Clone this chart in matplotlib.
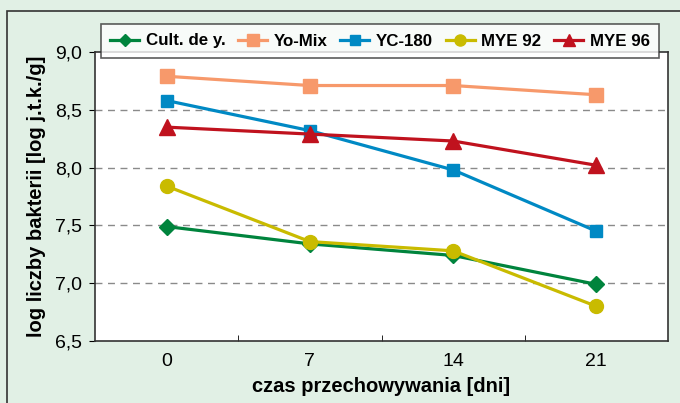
import matplotlib.pyplot as plt
import matplotlib.ticker as ticker
from matplotlib.patches import Rectangle

#----------------------------------------------------------------------------------------------------
# data
#----------------------------------------------------------------------------------------------------
days = ['0', '7', '14', '21']
cult = [7.49, 7.34, 7.24, 6.99]
yomix = [8.79, 8.71, 8.71, 8.63]
yc180 = [8.58, 8.32, 7.98, 7.45]
mye92 = [7.84, 7.36, 7.28, 6.80]
mye96 = [8.35, 8.29, 8.23, 8.02]

names = ['Cult. de y.', 'Yo-Mix', 'YC-180', 'MYE 92', 'MYE 96']
series = [cult, yomix, yc180, mye92, mye96]
colors = ['#00843d', '#f7996b', '#0089c4', '#c9bb00', '#c0121e']
markers = ['D', 's', 's', 'o', '^']
msizes = [8, 10, 9, 10, 11]

plt.rcParams['font.family'] = ['Liberation Sans', 'DejaVu Sans']

bg = '#e1f0e5'
fig = plt.figure(figsize=(6.8, 4.03), dpi=100)
fig.patch.set_facecolor(bg)
# outer frame
fig.patches.append(Rectangle((7/680, -0.1), 1.2, 1 - 11/403 + 0.1, transform=fig.transFigure,
                             fill=False, edgecolor='#333333', linewidth=1.2))

ax = fig.add_axes([95/680, 62/403, 573/680, 289/403])
ax.set_facecolor('white')

x = list(range(len(days)))
for vals, name, c, m, ms in zip(series, names, colors, markers, msizes):
    ax.plot(x, vals, color=c, marker=m, markersize=ms, linewidth=2.3, label=name)

ax.set_xlim(-0.5, 3.5)
ax.set_ylim(6.5, 9.0)
ax.set_xticks(x)
ax.set_xticklabels(days)
ax.xaxis.set_minor_locator(ticker.FixedLocator([0.5, 1.5, 2.5]))
ax.tick_params(axis='x', which='major', length=0, labelsize=14, pad=9)
ax.tick_params(axis='x', which='minor', length=4, direction='in')
ax.set_yticks([6.5, 7.0, 7.5, 8.0, 8.5, 9.0])
ax.yaxis.set_major_formatter(ticker.FuncFormatter(lambda v, p: ('%.1f' % v).replace('.', ',')))
ax.tick_params(axis='y', length=4, direction='out', labelsize=14, pad=5)

for g in [7.0, 7.5, 8.0, 8.5]:
    ax.axhline(g, color='#8a8a8a', linestyle=(0, (5, 4)), linewidth=1, zorder=0)

for s in ax.spines.values():
    s.set_color('#333333')
    s.set_linewidth(1.2)

ax.set_xlabel('czas przechowywania [dni]', fontsize=14.5, fontweight='bold', labelpad=5)
ax.set_ylabel('log liczby bakterii [log j.t.k./g]', fontsize=14.5, fontweight='bold', labelpad=7)

leg = ax.legend(loc='center', bbox_to_anchor=(380/680, 1 - 41/403), bbox_transform=fig.transFigure,
                ncol=5, frameon=True, fancybox=False,
                prop={'weight': 'bold', 'size': 12.2}, handlelength=1.7, columnspacing=0.75,
                handletextpad=0.4, borderpad=0.55, borderaxespad=0, markerscale=0.8)
leg.get_frame().set_edgecolor('#333333')
leg.get_frame().set_linewidth(1.2)
leg.set_zorder(10)

plt.savefig('out.png', dpi=100, facecolor=bg)
